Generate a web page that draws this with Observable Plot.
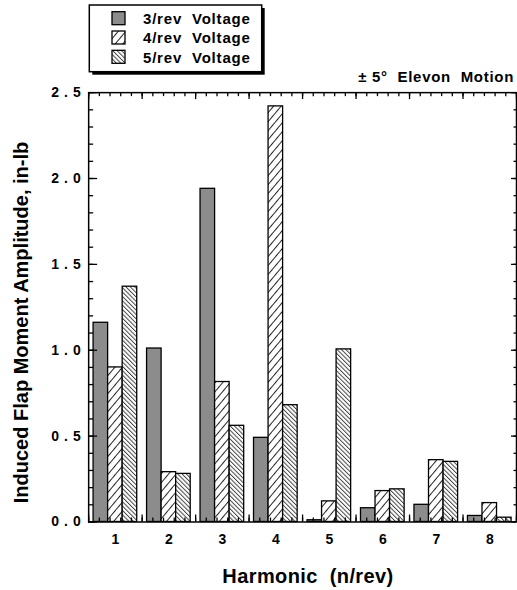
<!DOCTYPE html>
<html>
<head>
<meta charset="utf-8">
<script src="https://cdn.jsdelivr.net/npm/d3@7"></script>
<script src="https://cdn.jsdelivr.net/npm/@observablehq/plot@0.6"></script>
<style>
  html, body { margin: 0; padding: 0; background: #fff; overflow: hidden; }
  #wrap { position: relative; width: 517px; height: 590px; overflow: hidden; }
  #wrap > svg { position: absolute; left: 0; top: 0; }
  .ylab text { letter-spacing: 5px; }
  .ov text { font-family: "Liberation Sans", Arial, Helvetica, sans-serif; font-weight: bold; white-space: pre; fill: #000; }
</style>
</head>
<body>
<div id="wrap"></div>
<script>
// ---- data ----
const harmonics = [1, 2, 3, 4, 5, 6, 7, 8];
const series = ["3/rev Voltage", "4/rev Voltage", "5/rev Voltage"];
const legendLabels = ["3/rev  Voltage", "4/rev  Voltage", "5/rev  Voltage"];
const volt3 = [1.16, 1.01, 1.94, 0.49, 0.01, 0.08, 0.10, 0.035];
const volt4 = [0.90, 0.29, 0.815, 2.42, 0.12, 0.18, 0.36, 0.11];
const volt5 = [1.37, 0.28, 0.56, 0.68, 1.005, 0.19, 0.35, 0.025];
const yMajor = [0, 0.5, 1.0, 1.5, 2.0, 2.5];
const xTitle = "Harmonic  (n/rev)";
const yTitle = "Induced Flap Moment Amplitude, in-lb";
const note = "\u00B1 5\u00B0  Elevon  Motion";

// ---- styling / layout ----
const fills = ["#8c8c8c", "url(#hatch4)", "url(#hatch5)"];
const FONT = '"Liberation Sans", Arial, Helvetica, sans-serif';
const W = 519, H = 590, ML = 88.5, MR = 1, MT = 92.5, MB = 66.5;
const PW = W - ML - MR, PH = H - MT - MB;

const rows = [];
[volt3, volt4, volt5].forEach((vals, i) => {
  vals.forEach((v, j) => rows.push({h: harmonics[j], s: series[i], i, v}));
});

const bw = 0.272;          // bar width in band units
const g0 = -1.5 * bw;      // group start offset
const yMinor = d3.range(0, 2.5001, 0.1);
const xMajorTicks = d3.range(0.5, 8.5001, 1);
const xMinorTicks = d3.range(0.5, 8.5001, 0.2);

// inward ticks along each side of the frame
const tk = {stroke: "#000", strokeWidth: 1.3};
const tickL = (t, L) => Plot.tickY(t, {y: d => d, insetRight: PW - L, ...tk});
const tickR = (t, L) => Plot.tickY(t, {y: d => d, insetLeft: PW - L, ...tk});
const tickT = (t, L) => Plot.tickX(t, {x: d => d, insetBottom: PH - L, ...tk});
const tickB = (t, L) => Plot.tickX(t, {x: d => d, insetTop: PH - L, ...tk});

const chart = Plot.plot({
  width: W,
  height: H,
  marginLeft: ML,
  marginRight: MR,
  marginTop: MT,
  marginBottom: MB,
  style: {fontFamily: FONT, fontWeight: "bold", fontSize: "14px", color: "#000", background: "transparent"},
  x: {domain: [0.5, 8.5], label: null},
  y: {domain: [0, 2.5], label: null},
  color: {type: "ordinal", domain: series, range: fills},
  marks: [
    Plot.rect(rows, {
      x1: d => d.h + g0 + d.i * bw,
      x2: d => d.h + g0 + (d.i + 1) * bw,
      y1: 0,
      y2: "v",
      fill: "s",
      stroke: "#000",
      strokeWidth: 1.3
    }),
    tickL(yMinor, 5),
    tickL(yMajor, 9),
    tickR(yMinor, 2.5),
    tickR(yMajor, 5),
    tickT(xMinorTicks, 4),
    tickT(xMajorTicks, 7),
    tickB(xMinorTicks, 4),
    tickB(xMajorTicks, 7),
    Plot.axisY({anchor: "left", ticks: yMajor, tickSize: 0, tickPadding: 3, label: null,
      tickFormat: d => d.toFixed(1), fontSize: 14, className: "ylab"}),
    Plot.axisX({anchor: "bottom", ticks: harmonics, tickSize: 0, tickPadding: 12, label: null,
      tickFormat: d => String(d), fontSize: 14}),
    Plot.frame({stroke: "#000", strokeWidth: 1.5})
  ]
});

// hatch patterns
const svg = d3.select(chart);
const defs = svg.insert("defs", ":first-child");
const p4 = defs.append("pattern").attr("id", "hatch4").attr("patternUnits", "userSpaceOnUse")
  .attr("width", 5.8).attr("height", 10).attr("patternTransform", "rotate(40)");
p4.append("rect").attr("width", 5.8).attr("height", 10).attr("fill", "#fff");
p4.append("line").attr("x1", 0.5).attr("y1", 0).attr("x2", 0.5).attr("y2", 10).attr("stroke", "#222").attr("stroke-width", 1);
const p5 = defs.append("pattern").attr("id", "hatch5").attr("patternUnits", "userSpaceOnUse")
  .attr("width", 3.1).attr("height", 10).attr("patternTransform", "rotate(-45)");
p5.append("rect").attr("width", 3.1).attr("height", 10).attr("fill", "#fff");
p5.append("line").attr("x1", 0.5).attr("y1", 0).attr("x2", 0.5).attr("y2", 10).attr("stroke", "#333").attr("stroke-width", 0.9);

const wrap = document.getElementById("wrap");
wrap.appendChild(chart);

// overlay: legend, note, axis titles
const ov = d3.select(wrap).append("svg").attr("class", "ov").attr("width", 517).attr("height", 590);
ov.append("rect").attr("x", 92.3).attr("y", 8).attr("width", 172.4).attr("height", 66.7).attr("fill", "#000");
ov.append("rect").attr("x", 89.3).attr("y", 5).attr("width", 172.4).attr("height", 66.7)
  .attr("fill", "#fff").attr("stroke", "#000").attr("stroke-width", 1.5);
series.forEach((s, i) => {
  ov.append("rect").attr("x", 112).attr("y", 11.7 + i * 19.3).attr("width", 13).attr("height", 13)
    .attr("fill", fills[i]).attr("stroke", "#000").attr("stroke-width", 1.3);
  ov.append("text").attr("x", 143).attr("y", 24 + i * 19.3).attr("font-size", 15)
    .attr("letter-spacing", "0.8px").text(legendLabels[i]);
});
ov.append("text").attr("x", 514).attr("y", 81.5).attr("text-anchor", "end").attr("font-size", 15)
  .attr("letter-spacing", "0.7px").text(note);
ov.append("text").attr("x", 308).attr("y", 583).attr("text-anchor", "middle").attr("font-size", 20)
  .attr("letter-spacing", "0.4px").text(xTitle);
ov.append("text").attr("transform", "translate(28,322.5) rotate(-90)").attr("text-anchor", "middle")
  .attr("font-size", 20).text(yTitle);
</script>
</body>
</html>
